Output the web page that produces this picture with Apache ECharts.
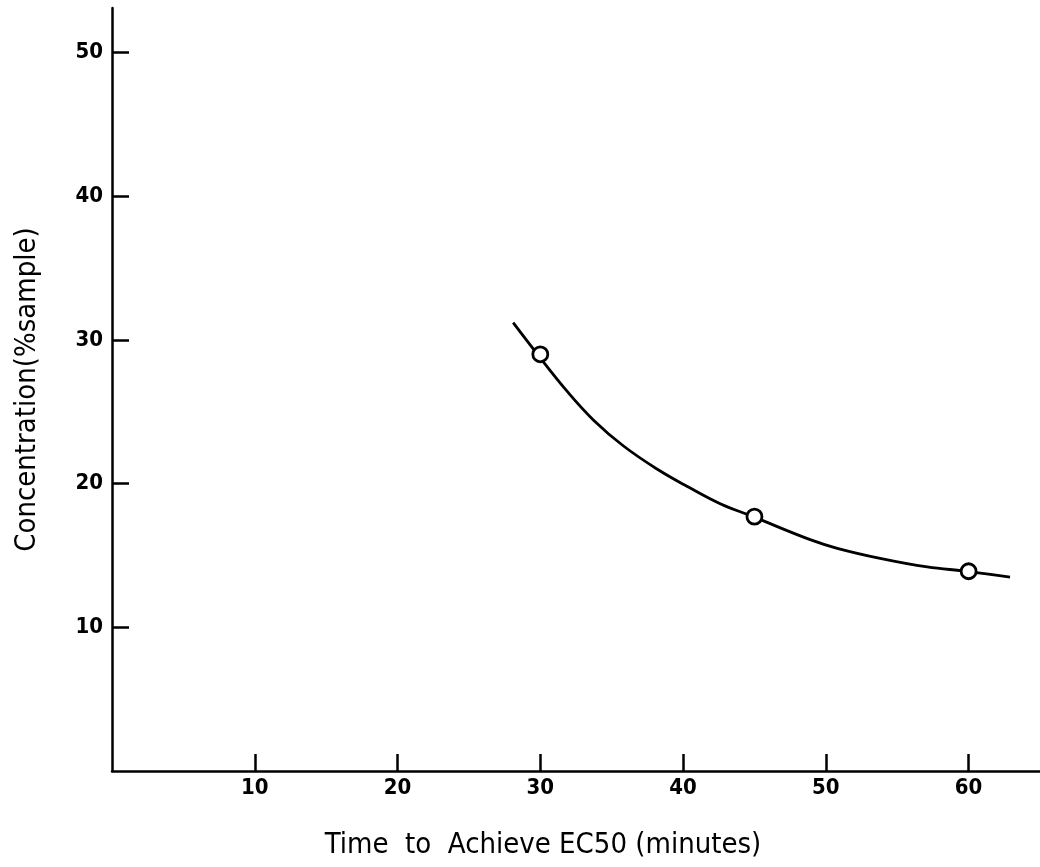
<!DOCTYPE html>
<html>
<head>
<meta charset="utf-8">
<script src="https://cdn.jsdelivr.net/npm/echarts@6/dist/echarts.min.js"></script>
<style>
  html, body { margin: 0; padding: 0; background: #fff; }
  #chart { width: 1040px; height: 867px; }
</style>
</head>
<body>
<div id="chart"></div>
<script>
// measured points (time in minutes, concentration in % sample)
var pointX = [30, 45, 60];
var pointY = [29, 17.7, 13.9];

// fitted curve
var curveX = [28.1, 29.8, 31.9, 33.75, 35.85, 38.2, 40.3, 42.6, 44.9, 48.9, 50.8, 53.8, 57.1, 59.9, 62.9];
var curveY = [31.2, 29.0, 26.4, 24.4, 22.6, 21.0, 19.8, 18.6, 17.7, 16.1, 15.5, 14.8, 14.2, 13.9, 13.5];

var xTicks = [10, 20, 30, 40, 50, 60];
var yTicks = [10, 20, 30, 40, 50];

var myChart = echarts.init(document.getElementById('chart'));

var font = 'DejaVu Sans Condensed';

var option = {
  backgroundColor: '#fff',
  animation: false,
  grid: { left: 112, right: 0, top: 8, bottom: 96 },
  xAxis: {
    type: 'value',
    min: 0,
    max: 65,
    interval: 10,
    name: 'Time  to  Achieve EC50 (minutes)',
    nameLocation: 'middle',
    nameGap: 60,
    nameTextStyle: { color: '#000', fontFamily: font, fontSize: 29, padding: [0, 66, 0, 0] },
    axisLine: { lineStyle: { color: '#000', width: 2.5 } },
    axisTick: { inside: true, length: 17, customValues: xTicks, lineStyle: { color: '#000', width: 2.5 } },
    axisLabel: { customValues: xTicks, margin: 6, color: '#000', fontFamily: font, fontWeight: 'bold', fontSize: 22 },
    splitLine: { show: false }
  },
  yAxis: {
    type: 'value',
    min: 0,
    max: 53.1,
    interval: 10,
    name: 'Concentration(%sample)',
    nameLocation: 'middle',
    nameGap: 70,
    nameTextStyle: { color: '#000', fontFamily: font, fontSize: 29 },
    axisLine: { lineStyle: { color: '#000', width: 2.5 } },
    axisTick: { inside: true, length: 17, customValues: yTicks, lineStyle: { color: '#000', width: 2.5 } },
    axisLabel: { customValues: yTicks, margin: 9, color: '#000', fontFamily: font, fontWeight: 'bold', fontSize: 22 },
    splitLine: { show: false }
  },
  series: [
    {
      type: 'line',
      data: curveX.map(function (x, i) { return [x, curveY[i]]; }),
      smooth: 0.4,
      showSymbol: false,
      lineStyle: { color: '#000', width: 2.8 },
      z: 2
    },
    {
      type: 'scatter',
      data: pointX.map(function (x, i) { return [x, pointY[i]]; }),
      symbol: 'circle',
      symbolSize: 15,
      itemStyle: { color: '#fff', borderColor: '#000', borderWidth: 2.8, opacity: 1 },
      z: 3
    }
  ]
};

myChart.setOption(option);
</script>
</body>
</html>
